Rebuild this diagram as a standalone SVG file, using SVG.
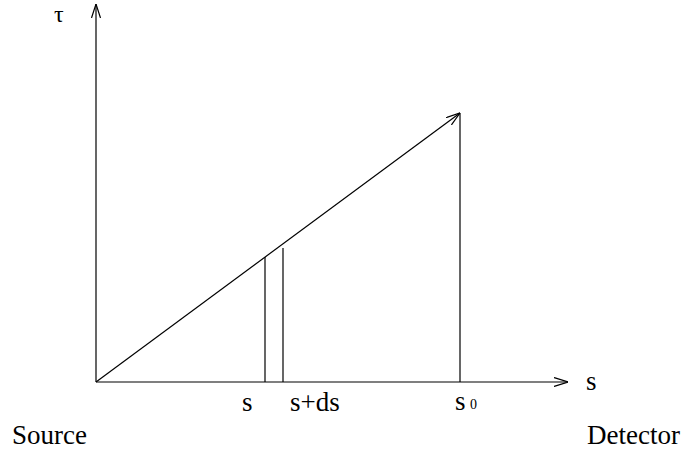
<svg xmlns="http://www.w3.org/2000/svg" width="683" height="453" viewBox="0 0 683 453">
<style>
.ln{stroke:#000;stroke-width:1.2;fill:none}
text{font-family:"Liberation Serif","Times New Roman",serif;font-size:27px;fill:#000}
</style>
<defs>
<marker id="ah" viewBox="0 0 14 10" refX="14" refY="5" markerWidth="14" markerHeight="10" markerUnits="userSpaceOnUse" orient="auto">
<path d="M0,0.5 L14,5 L0,9.5" stroke="#000" stroke-width="1.2" fill="none"/>
</marker>
</defs>
<rect width="683" height="453" fill="#fff"/>
<g id="connectors">
<line class="ln" x1="96" y1="382" x2="96" y2="4" marker-end="url(#ah)"/>
<line class="ln" x1="96" y1="382" x2="568" y2="382" marker-end="url(#ah)"/>
<line class="ln" x1="96" y1="382" x2="460" y2="113" marker-end="url(#ah)"/>
<line class="ln" x1="460" y1="113" x2="460" y2="382"/>
<line class="ln" x1="265" y1="257" x2="265" y2="382"/>
<line class="ln" x1="283" y1="248" x2="283" y2="382"/>
</g>
<g id="labels">
<text x="54" y="22" style="font-size:24px">τ</text>
<text x="586" y="390">s</text>
<text x="242" y="411">s</text>
<text x="290" y="411">s+ds</text>
<text x="455" y="410">s</text>
<text x="470" y="409" style="font-size:14px">0</text>
<text x="12" y="444">Source</text>
<text x="587" y="444">Detector</text>
</g>
</svg>
